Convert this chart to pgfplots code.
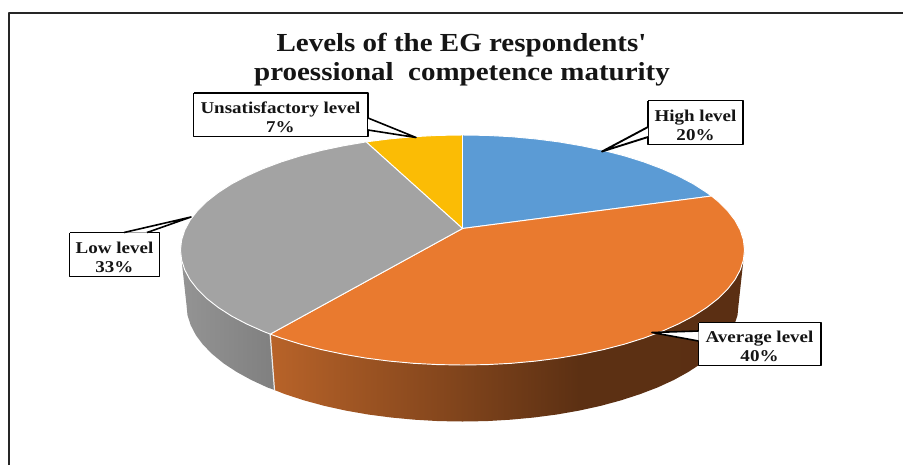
\documentclass[border=0pt]{standalone}
\usepackage{fontspec}
\setmainfont{Liberation Serif}
\newfontfamily\ttlfont[FakeStretch=1.115]{Liberation Serif}
\newfontfamily\lblfont[FakeStretch=1.15]{Liberation Serif}
\usepackage{pgfplots}
\pgfplotsset{compat=1.18}
\definecolor{pblue}{HTML}{5B9BD5}
\definecolor{porange}{HTML}{E97A2F}
\definecolor{pgray}{HTML}{A3A3A3}
\definecolor{pyellow}{HTML}{FBBC05}
\definecolor{txt}{HTML}{151515}
\definecolor{sa}{HTML}{B86329}
\definecolor{sb}{HTML}{5C3013}
\definecolor{sc}{HTML}{5A2E12}
\pgfdeclarehorizontalshading{orside}{100bp}{color(0bp)=(sa); color(25bp)=(sa); color(57.6bp)=(sb); color(100bp)=(sc)}
\begin{document}
\begin{tikzpicture}
\begin{axis}[
  scale only axis, width=677.25pt, height=348.75pt,
  xmin=0, xmax=903, ymin=0, ymax=465, y dir=reverse,
  axis lines=none, clip=true,
  every axis plot/.append style={no markers, line join=round, sharp plot},
]
% frame
\addplot[draw=none] coordinates {(0,0)(903,465)};
\addplot[color=black!85, line width=1.5pt] coordinates {(8.5,465)(8.5,12.5)(903,12.5)};
% sides
\addplot[draw=none, left color=black!42, right color=black!50] coordinates {
(180.5,250)(181.6,260)(184.8,270)(190.1,279.8)(197.5,289.3)(206.9,298.6)(218.3,307.5)(231.5,316)(246.5,323.9)(263.1,331.3)(270.2,334.1)
(274.5,390)(267.3,387.4)(251.1,379.9)(236.4,371.8)(223.5,363.3)(212.4,354.2)(203.1,344.8)(195.9,335.2)(190.7,325.2)(187.5,315.2)(186.5,305)};
\addplot[draw=none, shading=orside, shading angle=0] coordinates {
(270.2,334.1)(281.2,338.1)(300.7,344.2)(321.5,349.6)(343.3,354.2)(366.1,358.1)(389.5,361.1)(413.5,363.3)(437.9,364.6)(462.5,365)(487.1,364.6)(511.5,363.3)(535.5,361.1)(558.9,358.1)(581.7,354.2)(603.5,349.6)(624.3,344.2)(643.8,338.1)(661.9,331.3)(678.5,323.9)(693.5,316)(706.7,307.5)(718.1,298.6)(727.5,289.3)(734.9,279.8)(740.2,270)(743.4,260)(744.5,250)
(738.5,305)(737.5,315.2)(734.3,325.2)(729.1,335.2)(721.9,344.8)(712.6,354.2)(701.5,363.3)(688.6,371.8)(674,379.9)(657.7,387.4)(639.9,394.2)(620.8,400.4)(600.5,405.9)(579.1,410.6)(556.9,414.5)(533.9,417.5)(510.4,419.7)(486.6,421.1)(462.5,421.5)(438.4,421.1)(414.6,419.7)(391.1,417.5)(368.1,414.5)(345.9,410.6)(324.5,405.9)(304.2,400.4)(285.1,394.2)(274.5,390)};
\addplot[color=white!92!black, line width=0.9pt] coordinates {(270.2,334.1)(274.5,390)};
% top face
\addplot[fill=pyellow, draw=white, line width=0.7pt] coordinates {
(462.5,228.5)(366.1,141.9)(389.5,138.9)(413.5,136.7)(437.9,135.4)(462.5,135)(462.5,228.5)};
\addplot[fill=pblue, draw=white, line width=0.7pt] coordinates {
(462.5,228.5)(462.5,135)(487.1,135.4)(511.5,136.7)(535.5,138.9)(558.9,141.9)(581.7,145.8)(603.5,150.4)(624.3,155.8)(643.8,161.9)(661.9,168.7)(678.5,176.1)(693.5,184)(706.7,192.5)(711.5,196)(462.5,228.5)};
\addplot[fill=porange, draw=white, line width=0.7pt] coordinates {
(462.5,228.5)(711.5,196)(718.1,201.4)(727.5,210.7)(734.9,220.2)(740.2,230)(743.4,240)(744.5,250)(743.4,260)(740.2,270)(734.9,279.8)(727.5,289.3)(718.1,298.6)(706.7,307.5)(693.5,316)(678.5,323.9)(661.9,331.3)(643.8,338.1)(624.3,344.2)(603.5,349.6)(581.7,354.2)(558.9,358.1)(535.5,361.1)(511.5,363.3)(487.1,364.6)(462.5,365)(437.9,364.6)(413.5,363.3)(389.5,361.1)(366.1,358.1)(343.3,354.2)(321.5,349.6)(300.7,344.2)(281.2,338.1)(270.2,334.1)(462.5,228.5)};
\addplot[fill=pgray, draw=white, line width=0.7pt] coordinates {
(462.5,228.5)(270.2,334.1)(263.1,331.3)(246.5,323.9)(231.5,316)(218.3,307.5)(206.9,298.6)(197.5,289.3)(190.1,279.8)(184.8,270)(181.6,260)(180.5,250)(181.6,240)(184.8,230)(190.1,220.2)(197.5,210.7)(206.9,201.4)(218.3,192.5)(231.5,184)(246.5,176.1)(263.1,168.7)(281.2,161.9)(300.7,155.8)(321.5,150.4)(343.3,145.8)(366.1,141.9)(462.5,228.5)};
% callouts
\addplot[fill=white, draw=black, line width=1.2pt] coordinates {(193.5,93)(368,93)(368,136.5)(193.5,136.5)(193.5,93)};
\addplot[fill=white, draw=none] coordinates {(368,118)(416,137.5)(368,130)};
\addplot[black, line width=1.2pt] coordinates {(368,118)(416,137.5)(368,130)};
\addplot[fill=white, draw=black, line width=1.4pt] coordinates {(648,100.5)(743,100.5)(743,144.5)(648,144.5)(648,100.5)};
\addplot[fill=white, draw=none] coordinates {(648,127)(602,151.5)(648,137)};
\addplot[black, line width=1.4pt] coordinates {(648,127)(602,151.5)(648,137)};
\addplot[fill=white, draw=black, line width=1.2pt] coordinates {(69.5,232.5)(159.5,232.5)(159.5,276.5)(69.5,276.5)(69.5,232.5)};
\addplot[fill=white, draw=none] coordinates {(124,232.5)(191,217)(147,232.5)};
\addplot[black, line width=1.2pt] coordinates {(124,232.5)(191,217)(147,232.5)};
\addplot[fill=white, draw=black, line width=1.2pt] coordinates {(698.5,322.5)(821,322.5)(821,365.5)(698.5,365.5)(698.5,322.5)};
\addplot[fill=white, draw=none] coordinates {(698.5,331)(652,332.5)(698.5,341)};
\addplot[black, line width=1.2pt] coordinates {(698.5,331)(652,332.5)(698.5,341)};
% text
\node[font=\ttlfont\fontsize{19.5pt}{22pt}\selectfont\bfseries, text=txt] at (axis cs:461.5,45) {Levels of the EG respondents'};
\node[font=\ttlfont\fontsize{19.5pt}{22pt}\selectfont\bfseries, text=txt] at (axis cs:462,74.5) {proessional\ \ competence maturity};
\node[font=\lblfont\fontsize{12.4pt}{14.4pt}\selectfont\bfseries, text=txt, align=center] at (axis cs:280.5,117.5) {Unsatisfactory level\\7\%};
\node[font=\lblfont\fontsize{12.4pt}{14.4pt}\selectfont\bfseries, text=txt, align=center] at (axis cs:695.5,125) {High level\\20\%};
\node[font=\lblfont\fontsize{12.4pt}{14.4pt}\selectfont\bfseries, text=txt, align=center] at (axis cs:114.5,257) {Low level\\33\%};
\node[font=\lblfont\fontsize{12.4pt}{14.4pt}\selectfont\bfseries, text=txt, align=center] at (axis cs:759.5,346.5) {Average level\\40\%};
\end{axis}
\end{tikzpicture}
\end{document}
